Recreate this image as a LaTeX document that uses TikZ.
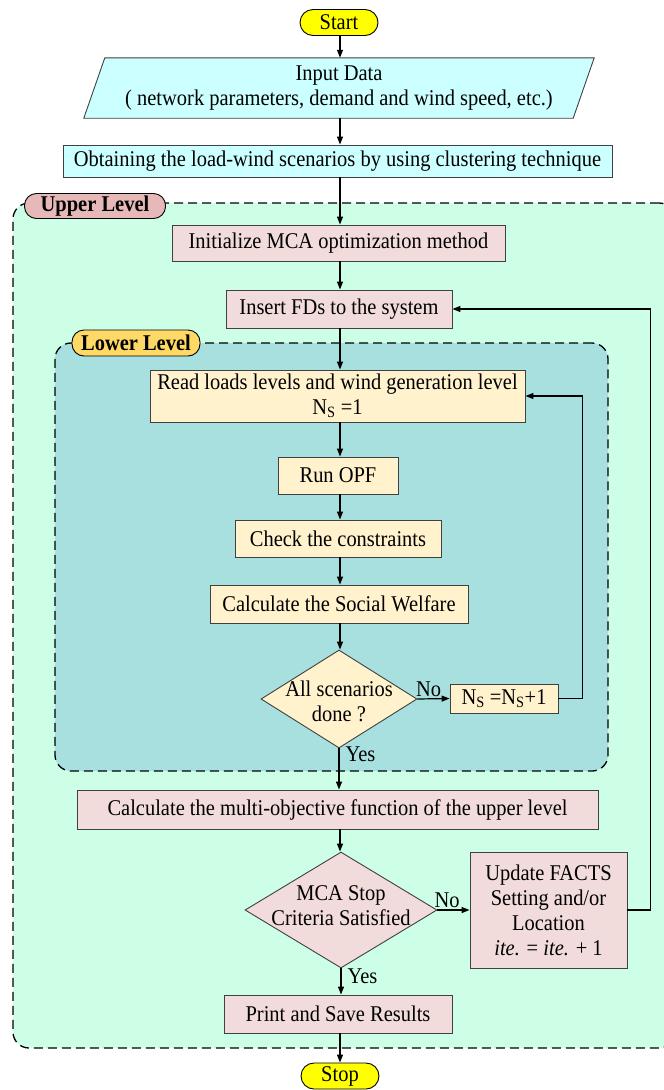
\documentclass[tikz,border=0pt]{standalone}
\usepackage{fontspec}
\setmainfont{Liberation Serif}[FakeStretch=0.91]
\usetikzlibrary{shapes.geometric,arrows.meta,calc}
\definecolor{startyel}{HTML}{FFFF00}
\definecolor{cyanfill}{HTML}{CCFFFF}
\definecolor{mintfill}{HTML}{CCFFE6}
\definecolor{upperlab}{HTML}{E6B9B8}
\definecolor{pinkfill}{HTML}{F2DCDB}
\definecolor{tealfill}{HTML}{A8DFDF}
\definecolor{lowerlab}{HTML}{FFD966}
\definecolor{creamfill}{HTML}{FFF2CC}
\definecolor{edgegray}{HTML}{404040}
\begin{document}
\begin{tikzpicture}[x=1pt,y=-1pt,
  font=\fontsize{22.5}{25}\selectfont,
  box/.style={draw=edgegray, line width=0.9pt, rectangle, inner sep=0pt, align=center},
  terminal/.style={draw=black, line width=0.9pt, fill=startyel, rounded corners=13pt, inner sep=0pt, minimum width=78pt, minimum height=26pt},
  container/.style={draw=black, line width=1.3pt, dash pattern=on 9pt off 5pt, rounded corners=16pt, rectangle, inner sep=0pt},
  levellab/.style={draw=black, line width=0.9pt, rounded corners=12pt, inner sep=0pt, font=\fontsize{22.5}{25}\selectfont\bfseries},
  decision/.style={draw=edgegray, line width=0.9pt, diamond, inner sep=0pt},
  arr/.style={line width=1.2pt, -{Triangle[length=8pt,width=6pt]}},
  flow/.style={line width=1.2pt}
]
\useasboundingbox (0,0) rectangle (664,1090);
\coordinate (col) at (340,0);

% containers
\node[container, fill=mintfill, minimum width=662pt, minimum height=845pt] (upper) at (344,625.5) {};
\node[levellab, fill=upperlab, minimum width=141pt, minimum height=25pt] (upperlab) at (95,206) {Upper Level};
\node[container, fill=tealfill, minimum width=553pt, minimum height=428pt] (lower) at (331.5,557) {};
\node[levellab, fill=lowerlab, minimum width=128pt, minimum height=26pt] (lowerlab) at (136,343) {Lower Level};

% top
\node[terminal] (start) at (339,22.5) {Start};
\node[inner sep=0pt, minimum width=510pt, minimum height=60pt, align=center] (input) at (339,88) {};
\fill[cyanfill] ($(input.north west)+(21,0)$) -- (input.north east) -- ($(input.south east)+(-21,0)$) -- (input.south west) -- cycle;
\draw[edgegray, line width=0.9pt] ($(input.north west)+(21,0)$) -- (input.north east) -- ($(input.south east)+(-21,0)$) -- (input.south west) -- cycle;
\node[align=center] (inputtext) at (input.center) {Input Data\\( network parameters, demand and wind speed, etc.)};
\node[box, fill=cyanfill, minimum width=549pt, minimum height=32pt] (obtain) at (337.5,161) {Obtaining the load-wind scenarios by using clustering technique};

% upper level
\node[box, fill=pinkfill, minimum width=333pt, minimum height=36pt] (init) at (338.5,243) {Initialize MCA optimization method};
\node[box, fill=pinkfill, minimum width=226pt, minimum height=38pt] (insert) at (339,309) {Insert FDs to the system};

% lower level
\node[box, fill=creamfill, minimum width=375pt, minimum height=52pt] (read) at (337.5,396) {Read loads levels and wind generation level\\N\textsubscript{S} =1};
\node[box, fill=creamfill, minimum width=120pt, minimum height=37pt] (opf) at (338,475.5) {Run OPF};
\node[box, fill=creamfill, minimum width=206pt, minimum height=37pt] (check) at (338,538.5) {Check the constraints};
\node[box, fill=creamfill, minimum width=258pt, minimum height=38pt] (sw) at (339,604) {Calculate the Social Welfare};
\node[decision, fill=creamfill, minimum width=156pt, minimum height=98pt] (d1) at (339,699) {};
\node[align=center] (d1text) at (339,701) {All scenarios\\done ?};
\node[box, fill=creamfill, minimum width=108pt, minimum height=29pt] (ns) at (504,698.5) {N\textsubscript{S} =N\textsubscript{S}+1};

% upper level bottom
\node[box, fill=pinkfill, minimum width=521pt, minimum height=39pt] (multi) at (337.5,809.5) {Calculate the multi-objective function of the upper level};
\node[decision, fill=pinkfill, minimum width=192pt, minimum height=116pt] (d2) at (341,910) {};
\node[align=center] (d2text) at (341,906) {MCA Stop\\Criteria Satisfied};
\node[box, fill=pinkfill, minimum width=157pt, minimum height=116pt] (update) at (548.5,910) {Update FACTS\\Setting and/or\\Location\\\textit{ite.} = \textit{ite.} + 1};
\node[box, fill=pinkfill, minimum width=228pt, minimum height=38pt] (print) at (338,1014) {Print and Save Results};
\node[terminal] (stop) at (340,1076) {Stop};

% connectors
\draw[arr] (start.south -| col) -- (input.north -| col);
\draw[arr] (input.south -| col) -- (obtain.north -| col);
\draw[arr] (obtain.south -| col) -- (init.north -| col);
\draw[arr] (init.south -| col) -- (insert.north -| col);
\draw[arr] (insert.south -| col) -- (read.north -| col);
\draw[arr] (read.south -| col) -- (opf.north -| col);
\draw[arr] (opf.south -| col) -- (check.north -| col);
\draw[arr] (check.south -| col) -- (sw.north -| col);
\draw[arr] (sw.south -| col) -- (d1.north -| col);
\draw[arr] (d1.east) -- node[pos=0.35, above, inner sep=2pt] (no1) {No} (ns.west);
\draw[arr] (ns.east) -- ++(24,0) |- (read.east);
\draw[arr] (d1.south) -- node[pos=0.15, right, inner sep=6pt] (yes1) {Yes} (d1.south |- multi.north);
\draw[arr] (multi.south -| col) -- (d2.north -| col);
\draw[arr] (d2.east) -- node[pos=0.3, above, inner sep=2pt] (no2) {No} (update.west);
\draw[arr] (update.east) -- ++(23,0) |- (insert.east);
\draw[arr] (d2.south) -- node[pos=0.3, right, inner sep=6pt] (yes2) {Yes} (d2.south |- print.north);
\draw[arr] (print.south -| col) -- (stop.north -| col);
\end{tikzpicture}
\end{document}
